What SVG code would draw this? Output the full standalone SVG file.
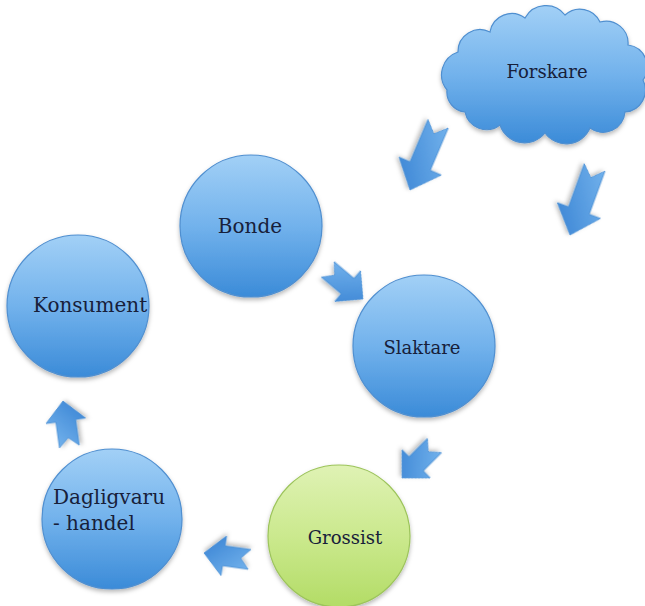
<svg xmlns="http://www.w3.org/2000/svg" width="645" height="606" viewBox="0 0 645 606">
<style>
.lbl{font-family:"DejaVu Serif","Liberation Serif",serif;font-size:18px;fill:#17203a}
.big{font-size:20px}
.blue{fill:url(#gBlue);stroke:#4f8fd0;stroke-width:1.2;filter:url(#sh)}
.green{fill:url(#gGreen);stroke:#9cc45a;stroke-width:1.2;filter:url(#sh)}
.arr{fill:url(#gArr);stroke:#4a8fd4;stroke-width:0.8;filter:url(#sh)}
</style>
<defs>
<linearGradient id="gBlue" x1="0" y1="0" x2="0" y2="1">
<stop offset="0" stop-color="#a2d0f6"/>
<stop offset="0.5" stop-color="#72b2ec"/>
<stop offset="1" stop-color="#3b8bd8"/>
</linearGradient>
<linearGradient id="gGreen" x1="0" y1="0" x2="0" y2="1">
<stop offset="0" stop-color="#dff2b4"/>
<stop offset="0.5" stop-color="#cbe98e"/>
<stop offset="1" stop-color="#b3dc66"/>
</linearGradient>
<linearGradient id="gArr" x1="0" y1="0" x2="1" y2="1">
<stop offset="0" stop-color="#7ab8ef"/>
<stop offset="1" stop-color="#3580d2"/>
</linearGradient>
<filter id="sh" x="-20%" y="-20%" width="140%" height="150%">
<feDropShadow dx="0" dy="2.5" stdDeviation="2" flood-color="#000" flood-opacity="0.28"/>
</filter>
<path id="aS" d="M0,0 L-20,-20 L-20,-10 L-46,-10 L-37,0 L-46,10 L-20,10 L-20,20 Z"/>
<path id="aL" d="M0,0 L-26,-23 L-26,-11 L-72,-11 L-61,0 L-72,11 L-26,11 L-26,23 Z"/>
</defs>
<rect width="645" height="606" fill="#fff"/>
<g id="connectors">
<use href="#aL" class="arr" transform="translate(410,190) rotate(113)"/>
<use href="#aL" class="arr" transform="translate(570,235) rotate(110)"/>
<use href="#aS" class="arr" transform="translate(363,299) rotate(40)"/>
<use href="#aS" class="arr" transform="translate(402,478) rotate(135)"/>
<use href="#aS" class="arr" transform="translate(204,553) rotate(188)"/>
<use href="#aS" class="arr" transform="translate(63,401) rotate(262)"/>
</g>
<g id="forskare">
<path class="blue" d="M447,90 A24,24 0 0 1 458,52 A22,22 0 0 1 490,32 A22,22 0 0 1 525,18 A24,24 0 0 1 565,15 A22,22 0 0 1 600,22 A22,22 0 0 1 628,45 A22,22 0 0 1 643,80 A22,22 0 0 1 625,112 A22,22 0 0 1 590,128 A26,26 0 0 1 545,133 A26,26 0 0 1 500,125 A22,22 0 0 1 465,112 A20,20 0 0 1 447,90 Z"/>
<text class="lbl" x="547" y="78" text-anchor="middle">Forskare</text>
</g>
<g id="bonde">
<circle class="blue" cx="251" cy="226" r="71"/>
<text class="lbl big" x="250" y="233" text-anchor="middle">Bonde</text>
</g>
<g id="slaktare">
<circle class="blue" cx="424" cy="346" r="71"/>
<text class="lbl" x="422" y="354" text-anchor="middle">Slaktare</text>
</g>
<g id="konsument">
<circle class="blue" cx="78" cy="306" r="71"/>
<text class="lbl big" x="33" y="312">Konsument</text>
</g>
<g id="dagligvaruhandel">
<circle class="blue" cx="112" cy="519" r="70"/>
<text class="lbl big" x="53" y="504">Dagligvaru</text>
<text class="lbl big" x="53" y="530">- handel</text>
</g>
<g id="grossist">
<circle class="green" cx="339" cy="536" r="71"/>
<text class="lbl" x="345" y="544" text-anchor="middle">Grossist</text>
</g>
</svg>
